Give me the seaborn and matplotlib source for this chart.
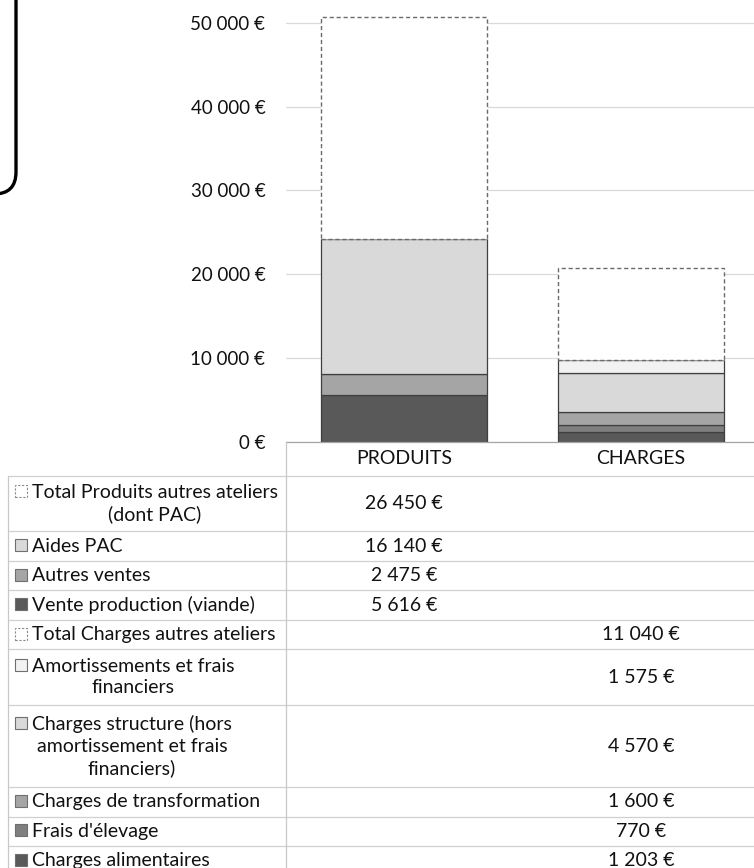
import matplotlib
matplotlib.use("Agg")
import matplotlib.pyplot as plt
import seaborn as sns
import pandas as pd
from matplotlib.patches import Rectangle, FancyBboxPatch
from matplotlib.lines import Line2D
from matplotlib.transforms import IdentityTransform

sns.set_theme(style="white")
plt.rcParams["font.family"] = ["Lato", "DejaVu Sans"]

# ---- data -------------------------------------------------------------
categories = ["PRODUITS", "CHARGES"]

produits_series = [
    "Vente production (viande)",
    "Autres ventes",
    "Aides PAC",
    "Total Produits autres ateliers\n(dont PAC)",
]
produits_values = [5616, 2475, 16140, 26450]
produits_colors = ["#595959", "#a5a5a5", "#d9d9d9", "#ffffff"]

charges_series = [
    "Charges alimentaires",
    "Frais d'élevage",
    "Charges de transformation",
    "Charges structure (hors\namortissement et frais\nfinanciers)",
    "Amortissements et frais\nfinanciers",
    "Total Charges autres ateliers",
]
charges_values = [1203, 770, 1600, 4570, 1575, 11040]
charges_colors = ["#595959", "#7f7f7f", "#a5a5a5", "#d9d9d9", "#f2f2f2", "#ffffff"]

y_ticks = [0, 10000, 20000, 30000, 40000, 50000]


def euro(v):
    return f"{v:,}".replace(",", " ") + " €"


# ---- figure / axes ----------------------------------------------------
W, H = 754, 868
fig = plt.figure(figsize=(W / 100, H / 100), dpi=100)
fig.patch.set_facecolor("white")

ax_left, ax_right = 285.5, 759.5
ax_base, px_per_unit = 441.7, 83.8 / 10000
y_max = 52000
ax = fig.add_axes([ax_left / W, 1 - ax_base / H,
                   (ax_right - ax_left) / W, y_max * px_per_unit / H])

groups = [(categories[0], produits_series, produits_values, produits_colors),
          (categories[1], charges_series, charges_values, charges_colors)]

for cat, names, vals, cols in groups:
    bottom = 0
    for name, val, col in zip(names, vals, cols):
        total = name.startswith("Total")
        df = pd.DataFrame({"cat": [cat], "val": [val]})
        sns.barplot(
            data=df, x="cat", y="val", order=categories, ax=ax,
            bottom=bottom, color=col, saturation=1, width=0.7,
            errorbar=None,
            edgecolor="#6a6a6a" if total else "#3f3f3f",
            linewidth=1.0 if total else 0.9,
            linestyle=(0, (3, 2)) if total else "-",
        )
        bottom += val

ax.set_xlim(-0.5, 1.5)
ax.set_ylim(0, y_max)
ax.set_xlabel("")
ax.set_ylabel("")
ax.set_xticks([])
ax.set_yticks(y_ticks)
ax.set_yticklabels([euro(t) for t in y_ticks])
ax.tick_params(axis="y", length=0, pad=14.5, labelsize=13.5, labelcolor="#111111")
ax.yaxis.grid(True, color="#dadada", linewidth=0.9)
ax.set_axisbelow(True)
for side in ["top", "right", "left"]:
    ax.spines[side].set_visible(False)
ax.spines["bottom"].set_color("#a6a6a6")
ax.spines["bottom"].set_linewidth(0.9)

# ---- data table under the chart (pixel coordinates) -------------------
ident = IdentityTransform()


def Y(py):
    return H - py


def hline(y, x0, x1, color="#d0d0d0", lw=0.9):
    fig.add_artist(Line2D([x0, x1], [Y(y), Y(y)], transform=ident, color=color, lw=lw))


def vline(x, y0, y1, color="#c8c8c8", lw=0.9):
    fig.add_artist(Line2D([x, x], [Y(y0), Y(y1)], transform=ident, color=color, lw=lw))


col_centers = [404, 641]
text_kw = dict(transform=ident, fontsize=14, color="#111111")
line_pitch = 22.5

# header row with category names
for cx, cat in zip(col_centers, categories):
    fig.text(cx, Y(458.5), cat, ha="center", va="center", **text_kw)

rows = []
for cat_i, (cat, names, vals, cols) in enumerate(groups):
    for name, val, col in reversed(list(zip(names, vals, cols))):
        rows.append((name, val, col, cat_i))

top = 475.5
table_top = top
hline(top, 8, W)
for name, val, col, cat_i in rows:
    n_lines = name.count("\n") + 1
    h = 29.5 + 26.3 * (n_lines - 1)
    cy = top + h / 2
    fig.text(32, Y(cy), name, ha="left", va="center", multialignment="center",
             linespacing=1.3, **text_kw)
    fig.text(col_centers[cat_i], Y(cy), euro(val), ha="center", va="center", **text_kw)
    key_cy = cy - (n_lines - 1) * line_pitch / 2 - 1
    total = name.startswith("Total")
    fig.add_artist(Rectangle(
        (15, Y(key_cy) - 6), 12, 12, transform=ident,
        facecolor=col, edgecolor="#8a8a8a" if total else "#6f6f6f",
        linewidth=0.8, linestyle=(0, (2, 1.5)) if total else "-"))
    top += h
    hline(top, 8, W)

vline(8, table_top, H + 10)
vline(ax_left, ax_base, H + 10)

# rounded frame partly visible at the upper left
fig.add_artist(FancyBboxPatch(
    (-80, Y(194)), 96, 400, boxstyle="round,pad=0,rounding_size=22",
    transform=ident, fill=False, edgecolor="black", linewidth=2.4))

fig.savefig("out.png", dpi=100, facecolor="white")
